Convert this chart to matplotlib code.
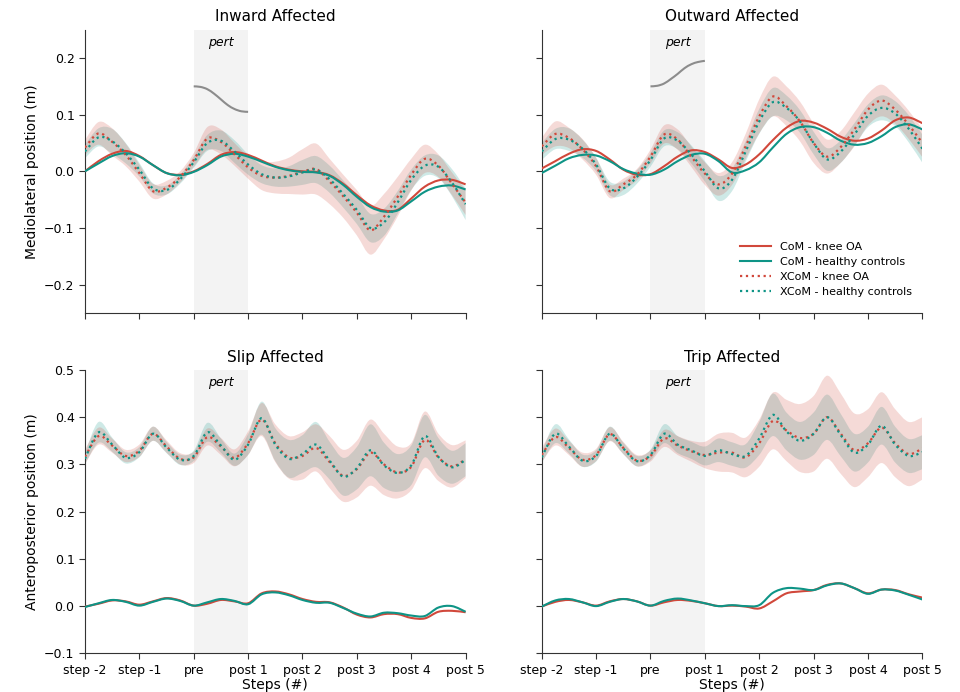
import numpy as np
import matplotlib
matplotlib.use('Agg')
import matplotlib.pyplot as plt
from matplotlib.path import Path
from matplotlib.patches import PathPatch
from matplotlib.lines import Line2D
from matplotlib.transforms import blended_transform_factory

tick_labels = ['step -2', 'step -1', 'pre', 'post 1', 'post 2', 'post 3', 'post 4', 'post 5']
t = np.linspace(0, 7, 29)          # sample positions, 4 per step
t_pert = np.linspace(2, 3, 9)

# ---- Inward (mediolateral) ----
in_com_oa = [0.000, 0.018, 0.031, 0.036, 0.027, 0.011, -0.003, -0.006, 0.000, 0.013, 0.029, 0.034, 0.029, 0.019,
             0.009, 0.003, 0.000, -0.001, -0.007, -0.022, -0.042, -0.060, -0.069, -0.068, -0.048, -0.027, -0.016,
             -0.015, -0.023]
in_com_hc = [0.000, 0.014, 0.027, 0.032, 0.026, 0.011, -0.003, -0.007, -0.001, 0.011, 0.026, 0.031, 0.026, 0.017,
             0.008, 0.002, -0.001, -0.002, -0.008, -0.024, -0.045, -0.063, -0.071, -0.069, -0.053, -0.036, -0.027,
             -0.025, -0.032]
in_xcom_oa = [0.042, 0.067, 0.052, 0.029, -0.003, -0.035, -0.029, -0.010, 0.020, 0.058, 0.052, 0.030, 0.007, -0.008,
              -0.011, -0.008, -0.001, 0.004, -0.018, -0.044, -0.073, -0.104, -0.080, -0.045, -0.006, 0.022, 0.010,
              -0.022, -0.055]
in_xcom_hc = [0.035, 0.060, 0.053, 0.032, 0.003, -0.030, -0.033, -0.014, 0.016, 0.050, 0.054, 0.035, 0.012, -0.005,
              -0.011, -0.009, -0.002, 0.003, -0.014, -0.040, -0.068, -0.100, -0.090, -0.055, -0.015, 0.010, 0.008,
              -0.020, -0.058]
in_sd_oa = [0.013, 0.020, 0.024, 0.020, 0.015, 0.013, 0.012, 0.010, 0.012, 0.020, 0.022, 0.020, 0.020, 0.025,
            0.028, 0.032, 0.040, 0.045, 0.040, 0.038, 0.040, 0.043, 0.040, 0.035, 0.028, 0.025, 0.020, 0.020, 0.022]
in_sd_hc = [0.012, 0.016, 0.022, 0.018, 0.012, 0.009, 0.008, 0.008, 0.010, 0.014, 0.018, 0.020, 0.018, 0.016,
            0.016, 0.018, 0.022, 0.024, 0.024, 0.024, 0.025, 0.025, 0.024, 0.020, 0.018, 0.018, 0.020, 0.024, 0.028]
in_pert = [0.150, 0.149, 0.145, 0.137, 0.127, 0.117, 0.110, 0.106, 0.105]

# ---- Outward (mediolateral) ----
out_com_oa = [0.005, 0.018, 0.031, 0.039, 0.036, 0.021, 0.003, -0.006, -0.005, 0.009, 0.026, 0.037, 0.034, 0.021,
              0.006, 0.012, 0.030, 0.055, 0.077, 0.089, 0.086, 0.075, 0.061, 0.054, 0.058, 0.072, 0.090, 0.095, 0.085]
out_com_hc = [-0.003, 0.010, 0.023, 0.029, 0.028, 0.018, 0.004, -0.004, -0.006, 0.003, 0.018, 0.029, 0.031, 0.018,
              -0.002, 0.002, 0.016, 0.042, 0.066, 0.078, 0.078, 0.068, 0.054, 0.047, 0.050, 0.062, 0.078, 0.083, 0.074]
out_xcom_oa = [0.044, 0.066, 0.059, 0.039, 0.009, -0.035, -0.023, -0.006, 0.026, 0.065, 0.056, 0.026, -0.004, -0.023,
               -0.004, 0.044, 0.097, 0.132, 0.115, 0.088, 0.050, 0.026, 0.043, 0.074, 0.109, 0.125, 0.109, 0.082, 0.050]
out_xcom_hc = [0.035, 0.057, 0.056, 0.040, 0.012, -0.030, -0.030, -0.010, 0.020, 0.058, 0.054, 0.030, 0.000, -0.030,
               -0.015, 0.035, 0.088, 0.122, 0.112, 0.088, 0.050, 0.021, 0.035, 0.065, 0.098, 0.112, 0.102, 0.075, 0.040]
out_sd_oa = [0.015, 0.022, 0.018, 0.018, 0.015, 0.012, 0.010, 0.010, 0.012, 0.016, 0.018, 0.018, 0.020, 0.020,
             0.020, 0.022, 0.030, 0.035, 0.035, 0.035, 0.035, 0.030, 0.028, 0.030, 0.028, 0.028, 0.025, 0.025, 0.025]
out_sd_hc = [0.015, 0.018, 0.020, 0.016, 0.012, 0.012, 0.012, 0.012, 0.012, 0.014, 0.015, 0.016, 0.018, 0.022,
             0.020, 0.018, 0.022, 0.025, 0.022, 0.020, 0.020, 0.020, 0.020, 0.020, 0.020, 0.022, 0.022, 0.024, 0.025]
out_pert = [0.150, 0.151, 0.155, 0.163, 0.172, 0.182, 0.189, 0.193, 0.195]

# ---- Slip (anteroposterior) ----
slip_com_oa = [-0.001, 0.005, 0.012, 0.010, 0.003, 0.010, 0.017, 0.012, 0.001, 0.005, 0.013, 0.010, 0.006, 0.027,
               0.031, 0.025, 0.015, 0.009, 0.008, -0.003, -0.018, -0.024, -0.017, -0.017, -0.025, -0.026, -0.012,
               -0.010, -0.013]
slip_com_hc = [-0.002, 0.006, 0.013, 0.009, 0.001, 0.009, 0.016, 0.011, 0.001, 0.008, 0.015, 0.011, 0.004, 0.025,
               0.029, 0.023, 0.013, 0.007, 0.007, -0.004, -0.016, -0.022, -0.014, -0.015, -0.020, -0.021, -0.003,
               0.000, -0.012]
slip_xcom_oa = [0.316, 0.360, 0.340, 0.318, 0.329, 0.365, 0.338, 0.312, 0.315, 0.358, 0.338, 0.314, 0.345, 0.395,
                0.345, 0.315, 0.318, 0.335, 0.305, 0.276, 0.290, 0.325, 0.300, 0.283, 0.295, 0.352, 0.315, 0.296, 0.311]
slip_xcom_hc = [0.312, 0.368, 0.342, 0.314, 0.326, 0.365, 0.336, 0.310, 0.318, 0.368, 0.340, 0.310, 0.342, 0.398,
                0.342, 0.312, 0.322, 0.342, 0.308, 0.274, 0.292, 0.330, 0.298, 0.282, 0.298, 0.360, 0.316, 0.294, 0.310]
slip_sd_oa = [0.015, 0.018, 0.015, 0.013, 0.013, 0.015, 0.013, 0.012, 0.012, 0.018, 0.018, 0.018, 0.025, 0.035,
              0.040, 0.045, 0.050, 0.050, 0.055, 0.055, 0.060, 0.070, 0.065, 0.055, 0.050, 0.060, 0.050, 0.045, 0.040]
slip_sd_hc = [0.012, 0.022, 0.015, 0.012, 0.011, 0.015, 0.012, 0.011, 0.011, 0.020, 0.015, 0.013, 0.022, 0.035,
              0.035, 0.040, 0.040, 0.048, 0.040, 0.040, 0.045, 0.055, 0.048, 0.040, 0.042, 0.045, 0.040, 0.035, 0.035]

# ---- Trip (anteroposterior) ----
trip_com_oa = [-0.001, 0.009, 0.013, 0.008, 0.001, 0.010, 0.015, 0.010, 0.001, 0.008, 0.013, 0.011, 0.006, 0.000,
               0.001, -0.001, -0.005, 0.010, 0.027, 0.031, 0.034, 0.045, 0.048, 0.038, 0.027, 0.035, 0.034, 0.025, 0.018]
trip_com_hc = [-0.001, 0.012, 0.015, 0.008, 0.000, 0.009, 0.015, 0.010, 0.001, 0.011, 0.016, 0.012, 0.006, 0.000,
               0.002, 0.000, 0.002, 0.028, 0.038, 0.037, 0.034, 0.044, 0.048, 0.038, 0.026, 0.035, 0.033, 0.024, 0.014]
trip_xcom_oa = [0.320, 0.358, 0.335, 0.310, 0.320, 0.364, 0.335, 0.308, 0.318, 0.355, 0.340, 0.328, 0.320, 0.325,
                0.325, 0.315, 0.345, 0.392, 0.372, 0.356, 0.365, 0.400, 0.365, 0.330, 0.345, 0.378, 0.345, 0.322, 0.334]
trip_xcom_hc = [0.315, 0.365, 0.338, 0.308, 0.318, 0.365, 0.334, 0.307, 0.320, 0.365, 0.342, 0.330, 0.318, 0.330,
                0.322, 0.318, 0.355, 0.405, 0.370, 0.350, 0.365, 0.400, 0.362, 0.325, 0.342, 0.382, 0.342, 0.318, 0.326]
trip_sd_oa = [0.015, 0.018, 0.015, 0.015, 0.013, 0.015, 0.013, 0.012, 0.012, 0.018, 0.020, 0.022, 0.028, 0.040,
              0.042, 0.042, 0.050, 0.060, 0.065, 0.072, 0.080, 0.088, 0.085, 0.078, 0.072, 0.075, 0.072, 0.068, 0.066]
trip_sd_hc = [0.012, 0.020, 0.015, 0.013, 0.012, 0.015, 0.012, 0.011, 0.011, 0.020, 0.018, 0.018, 0.020, 0.025,
              0.025, 0.025, 0.035, 0.045, 0.040, 0.040, 0.045, 0.048, 0.045, 0.040, 0.038, 0.040, 0.038, 0.036, 0.036]

red = '#d1483b'
teal = '#0e9486'


def smooth_segments(x, y):
    # Catmull-Rom through the read points, drawn as cubic Bezier segments
    p = np.column_stack([x, y])
    pp = np.vstack([p[0], p, p[-1]])
    verts = [p[0]]
    for i in range(len(p) - 1):
        a, b, c, d = pp[i], pp[i + 1], pp[i + 2], pp[i + 3]
        verts += [b + (c - a) / 6, c - (d - b) / 6, c]
    return verts


def smooth_line(ax, x, y, **kw):
    verts = smooth_segments(x, y)
    codes = [Path.MOVETO] + [Path.CURVE4] * (len(verts) - 1)
    ax.add_patch(PathPatch(Path(verts, codes), fill=False, **kw))


def smooth_band(ax, x, lo, hi, **kw):
    up = smooth_segments(x, hi)
    down = smooth_segments(x[::-1], lo[::-1])
    verts = up + [down[0]] + down[1:] + [up[0]]
    codes = ([Path.MOVETO] + [Path.CURVE4] * (len(up) - 1) + [Path.LINETO]
             + [Path.CURVE4] * (len(down) - 1) + [Path.CLOSEPOLY])
    ax.add_patch(PathPatch(Path(verts, codes), **kw))


fig = plt.figure(figsize=(9.6, 6.92), dpi=100)
plt.rcParams['font.family'] = 'DejaVu Sans'

w, h = 0.3965, 0.4094
positions = [(0.0885, 0.5477), (0.5643, 0.5477), (0.0885, 0.0559), (0.5643, 0.0559)]
panels = [
    ('Inward Affected', in_com_oa, in_com_hc, in_xcom_oa, in_xcom_hc, in_sd_oa, in_sd_hc, in_pert),
    ('Outward Affected', out_com_oa, out_com_hc, out_xcom_oa, out_xcom_hc, out_sd_oa, out_sd_hc, out_pert),
    ('Slip Affected', slip_com_oa, slip_com_hc, slip_xcom_oa, slip_xcom_hc, slip_sd_oa, slip_sd_hc, None),
    ('Trip Affected', trip_com_oa, trip_com_hc, trip_xcom_oa, trip_xcom_hc, trip_sd_oa, trip_sd_hc, None),
]

for i, (title, com_oa, com_hc, xcom_oa, xcom_hc, sd_oa, sd_hc, pert) in enumerate(panels):
    ax = fig.add_axes([positions[i][0], positions[i][1], w, h])
    ax.axvspan(2, 3, color='#f3f3f3', lw=0, zorder=0)
    xo, xh = np.array(xcom_oa), np.array(xcom_hc)
    so, sh = np.array(sd_oa), np.array(sd_hc)
    smooth_band(ax, t, xh - sh, xh + sh, facecolor=teal, alpha=0.2, lw=0, zorder=1)
    smooth_band(ax, t, xo - so, xo + so, facecolor=red, alpha=0.2, lw=0, zorder=1)
    smooth_line(ax, t, np.array(com_oa), edgecolor=red, lw=1.5, zorder=3)
    smooth_line(ax, t, np.array(com_hc), edgecolor=teal, lw=1.5, zorder=3)
    smooth_line(ax, t, xo, edgecolor=red, lw=1.6, ls=':', zorder=3)
    smooth_line(ax, t, xh, edgecolor=teal, lw=1.6, ls=':', zorder=3)
    if pert is not None:
        smooth_line(ax, t_pert, np.array(pert), edgecolor='#8c8c8c', lw=1.5, zorder=2)
    trans = blended_transform_factory(ax.transData, ax.transAxes)
    ax.text(2.5, 0.955, 'pert', style='italic', fontsize=9, ha='center', va='center', transform=trans)

    ax.set_title(title, fontsize=11)
    ax.set_xlim(0, 7)
    ax.set_xticks(range(8))
    if i < 2:
        ax.set_ylim(-0.25, 0.25)
        ax.set_yticks([-0.2, -0.1, 0.0, 0.1, 0.2])
        ax.set_xticklabels([])
    else:
        ax.set_ylim(-0.1, 0.5)
        ax.set_yticks([-0.1, 0.0, 0.1, 0.2, 0.3, 0.4, 0.5])
        ax.set_xticklabels(tick_labels)
        ax.set_xlabel('Steps (#)', fontsize=10, labelpad=1)
    if i % 2 == 1:
        ax.set_yticklabels([])
    ax.tick_params(labelsize=9, length=4, color='#333333')
    for s in ['top', 'right']:
        ax.spines[s].set_visible(False)
    for s in ['left', 'bottom']:
        ax.spines[s].set_color('#333333')
    if i == 0:
        ax.set_ylabel('Mediolateral position (m)', fontsize=10)
    if i == 2:
        ax.set_ylabel('Anteroposterior position (m)', fontsize=10)
    if i == 1:
        handles = [Line2D([], [], color=red, lw=1.5), Line2D([], [], color=teal, lw=1.5),
                   Line2D([], [], color=red, lw=1.6, ls=':'), Line2D([], [], color=teal, lw=1.6, ls=':')]
        labels = ['CoM - knee OA', 'CoM - healthy controls', 'XCoM - knee OA', 'XCoM - healthy controls']
        ax.legend(handles, labels, loc='lower right', bbox_to_anchor=(1.0, 0.02), frameon=False, fontsize=8,
                  handlelength=2.8, labelspacing=0.45)

fig.savefig('out.png', dpi=100)
